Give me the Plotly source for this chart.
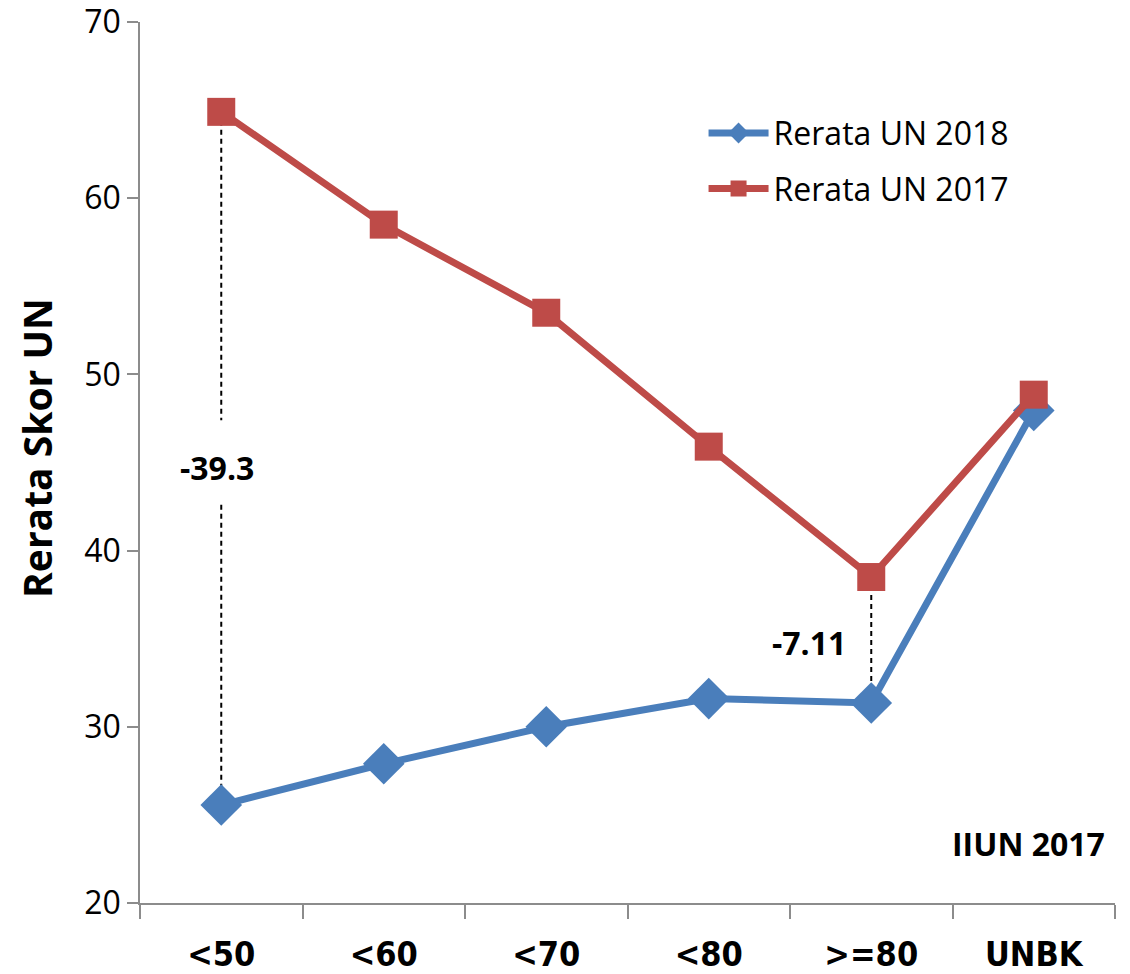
import plotly.graph_objects as go

categories = ["<50", "<60", "<70", "<80", ">=80", "UNBK"]
rerata_2018 = [25.56, 27.9, 30.0, 31.6, 31.35, 47.95]
rerata_2017 = [64.9, 58.5, 53.5, 45.9, 38.5, 48.85]
selisih_labels = ["-39.3", "-7.11"]
gap_50 = [47.4, 42.6]          # gap in dashed line round the -39.3 label
label_y = [44.7, 34.8]

font_main = "Open Sans"
blue = "#4A7EBB"
red = "#BE4B48"

fig = go.Figure()

# dashed difference lines
fig.add_trace(go.Scatter(
    x=[categories[0], categories[0], None, categories[0], categories[0], None,
       categories[4], categories[4]],
    y=[rerata_2017[0], gap_50[0], None, gap_50[1], rerata_2018[0], None,
       rerata_2017[4], rerata_2018[4]],
    mode="lines", line=dict(color="black", width=2, dash="5px,4px"),
    showlegend=False, hoverinfo="skip"))

fig.add_trace(go.Scatter(
    x=categories, y=rerata_2018, name="Rerata UN 2018", legendgroup="a",
    mode="lines+markers",
    line=dict(color=blue, width=7),
    marker=dict(symbol="diamond", size=32, color=blue),
    cliponaxis=False))

fig.add_trace(go.Scatter(
    x=categories, y=rerata_2017, name="Rerata UN 2017", legendgroup="b",
    mode="lines+markers",
    line=dict(color=red, width=7),
    marker=dict(symbol="square", size=28, color=red),
    cliponaxis=False))

ann_font = dict(family=font_main, size=32, color="black")
fig.add_annotation(x=categories[0], y=label_y[0], text="<b>" + selisih_labels[0] + "</b>",
                   showarrow=False, xshift=-4, font=ann_font)
fig.add_annotation(x=categories[4], y=label_y[1], text="<b>" + selisih_labels[1] + "</b>",
                   showarrow=False, xshift=-62, font=ann_font)
fig.add_annotation(x=1, y=23.4, xref="paper", text="<b>IIUN 2017</b>", xanchor="right",
                   showarrow=False, xshift=-8, font=ann_font)
# y axis title, a bit above the plot centre as in the original
fig.add_annotation(x=0, y=0.516, xref="paper", yref="paper", text="<b>Rerata Skor UN</b>",
                   textangle=-90, showarrow=False, xshift=-132,
                   font=dict(family=font_main, size=39, color="black"))

fig.update_xaxes(
    type="category", categoryorder="array", categoryarray=categories,
    tickson="boundaries", ticks="outside", ticklen=14,
    tickcolor="#8C8C8C", tickwidth=1.5, showline=True, linecolor="#8C8C8C", linewidth=1.5,
    showgrid=False, range=[-0.5, 5.5], automargin=False, ticklabeloverflow="allow",
    tickfont=dict(family="DejaVu Sans Condensed", size=34, color="black"),
    tickprefix="<b>", ticksuffix="</b>",
    ticklabelstandoff=20)
fig.update_yaxes(
    range=[20, 70], dtick=10, ticks="outside", ticklen=11,
    tickcolor="#8C8C8C", tickwidth=1.5, showline=True, linecolor="#8C8C8C", linewidth=1.5,
    showgrid=False, zeroline=False, automargin=False, ticklabeloverflow="allow",
    tickfont=dict(family=font_main, size=32, color="black"))

fig.update_layout(
    width=1130, height=974,
    margin=dict(l=140, r=15, t=22, b=71),
    plot_bgcolor="white", paper_bgcolor="white",
    legend=dict(x=0.578, y=0.905, xanchor="left", yanchor="top",
                font=dict(family=font_main, size=32, color="black"),
                bgcolor="rgba(0,0,0,0)", traceorder="grouped", tracegroupgap=11,
                itemwidth=60),
    hovermode=False)

# drop the page's default body margin so the figure fills the window
fig.write_html("out.html", config={"displayModeBar": False},
               post_script="document.body.style.margin='0';")
